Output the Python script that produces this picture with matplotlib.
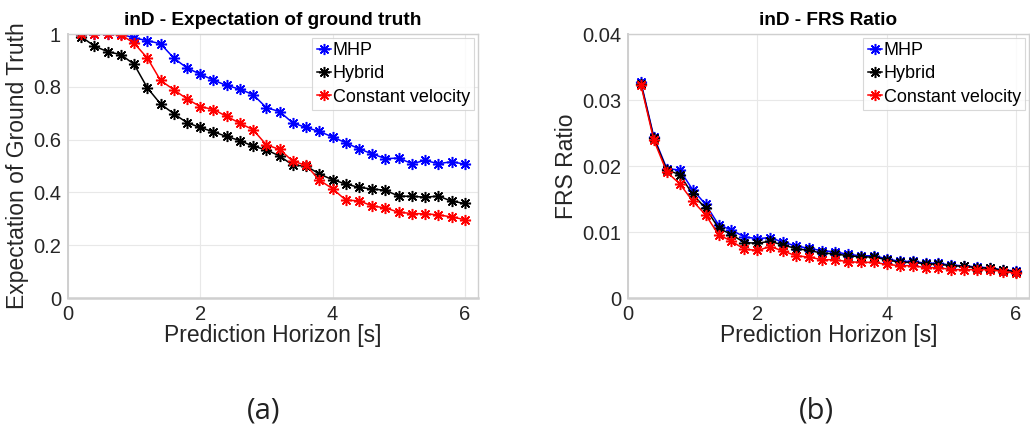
import numpy as np
import matplotlib
matplotlib.use("Agg")
import matplotlib.pyplot as plt
from matplotlib.ticker import FixedLocator, FixedFormatter

plt.rcParams['font.family'] = ['Liberation Sans', 'DejaVu Sans']

horizon = [round(0.2 * k, 1) for k in range(1, 31)]

exp_mhp = [1.0, 1.0, 1.0, 1.0, 0.985, 0.975, 0.963, 0.909, 0.871, 0.848,
           0.825, 0.805, 0.791, 0.770, 0.721, 0.706, 0.663, 0.646, 0.631, 0.610,
           0.588, 0.565, 0.546, 0.528, 0.530, 0.509, 0.521, 0.509, 0.516, 0.507]
exp_hybrid = [0.990, 0.954, 0.933, 0.922, 0.885, 0.796, 0.735, 0.698, 0.664, 0.646,
              0.629, 0.612, 0.596, 0.575, 0.561, 0.538, 0.503, 0.500, 0.470, 0.448,
              0.432, 0.419, 0.413, 0.408, 0.386, 0.385, 0.382, 0.386, 0.367, 0.358]
exp_cv = [1.0, 1.0, 1.0, 0.997, 0.965, 0.909, 0.824, 0.789, 0.754, 0.725,
          0.714, 0.688, 0.662, 0.637, 0.580, 0.563, 0.518, 0.503, 0.447, 0.414,
          0.371, 0.368, 0.349, 0.341, 0.325, 0.320, 0.319, 0.315, 0.307, 0.297]

frs_mhp = [0.0327, 0.0244, 0.0196, 0.0194, 0.0164, 0.0142, 0.0111, 0.0103, 0.00925, 0.0090,
           0.00915, 0.00844, 0.00788, 0.00752, 0.00717, 0.00701, 0.00661, 0.0064, 0.0064, 0.00595,
           0.00554, 0.00554, 0.00529, 0.00524, 0.00498, 0.00488, 0.00468, 0.00457, 0.00422, 0.00412]
frs_hybrid = [0.0325, 0.0242, 0.0194, 0.0187, 0.0157, 0.0136, 0.0106, 0.0096, 0.0084, 0.0083,
              0.0086, 0.0080, 0.0075, 0.0072, 0.0068, 0.0067, 0.0064, 0.00625, 0.0062, 0.0058,
              0.0054, 0.0054, 0.0052, 0.0051, 0.0049, 0.0048, 0.0046, 0.0045, 0.0042, 0.0040]
frs_cv = [0.0323, 0.0239, 0.0191, 0.0173, 0.0147, 0.0126, 0.0096, 0.0086, 0.0074, 0.0072,
          0.0078, 0.0071, 0.0064, 0.0062, 0.0058, 0.0058, 0.0055, 0.0054, 0.0054, 0.0051,
          0.0049, 0.0049, 0.0046, 0.0046, 0.0043, 0.0043, 0.0043, 0.0043, 0.0040, 0.0038]

series_names = ['MHP', 'Hybrid', 'Constant velocity']
series_colors = ['#0000ff', '#000000', '#ff0000']

x_ticks = [0, 2, 4, 6]
left_yticks = [0, 0.2, 0.4, 0.6, 0.8, 1.0]
left_yticklabels = ['0', '0.2', '0.4', '0.6', '0.8', '1']
right_yticks = [0, 0.01, 0.02, 0.03, 0.04]
right_yticklabels = ['0', '0.01', '0.02', '0.03', '0.04']

W, H = 1030, 434
fig = plt.figure(figsize=(W / 100, H / 100), dpi=100)
fig.patch.set_facecolor('white')

ASTERISK = (8, 2, 0)


def px_axes(l, r, t, b):
    return fig.add_axes([l / W, (H - b) / H, (r - l) / W, (b - t) / H])


def style(ax, yticks, ylabels, ylim, title, ylabel):
    ax.set_xlim(0, 6.2)
    ax.set_ylim(*ylim)
    ax.xaxis.set_major_locator(FixedLocator(x_ticks))
    ax.set_xticklabels([str(t) for t in x_ticks])
    ax.yaxis.set_major_locator(FixedLocator(yticks))
    ax.yaxis.set_major_formatter(FixedFormatter(ylabels))
    ax.grid(True, color='#e8e8e8', linewidth=0.8)
    ax.set_axisbelow(True)
    for s in ax.spines.values():
        s.set_color('#cfcfcf')
        s.set_linewidth(1.0)
    ax.spines['left'].set_linewidth(1.4)
    ax.spines['bottom'].set_linewidth(1.8)
    ax.tick_params(axis='both', direction='in', length=0, labelsize=14.5,
                   labelcolor='#262626', pad=5)
    ax.set_title(title, fontsize=13.7, fontweight='bold', pad=6.5)
    ax.set_xlabel('Prediction Horizon [s]', fontsize=16.5, color='#262626', labelpad=0)
    ax.set_ylabel(ylabel, fontsize=16.5, color='#262626', labelpad=3)


ax1 = px_axes(68, 478, 34, 298)
for vals, name, c in zip([exp_mhp, exp_hybrid, exp_cv], series_names, series_colors):
    ax1.plot(horizon, vals, color=c, marker=ASTERISK, markersize=8, markeredgewidth=1.1,
             linewidth=1.1, label=name)
style(ax1, left_yticks, left_yticklabels, (0, 1.0), 'inD - Expectation of ground truth',
      'Expectation of Ground Truth')

ax2 = px_axes(628, 1029, 34, 298)
for vals, name, c in zip([frs_mhp, frs_hybrid, frs_cv], series_names, series_colors):
    ax2.plot(horizon, vals, color=c, marker=ASTERISK, markersize=8, markeredgewidth=1.1,
             linewidth=1.1, label=name)
style(ax2, right_yticks, right_yticklabels, (0, 0.04), 'inD - FRS Ratio', 'FRS Ratio')

for ax in (ax1, ax2):
    leg = ax.legend(loc='upper right', fontsize=13, frameon=True, fancybox=False,
                    handlelength=0.8, handletextpad=0.1, borderpad=0.25,
                    labelspacing=0.35, borderaxespad=0.2)
    leg.get_frame().set_edgecolor('#cfcfcf')
    leg.get_frame().set_linewidth(0.8)

fig.text(264 / W, 1 - 411 / H, '(a)', fontsize=21, family=['Open Sans', 'DejaVu Sans'],
         ha='center', va='center', color='#222222')
fig.text(816 / W, 1 - 411 / H, '(b)', fontsize=21, family=['Open Sans', 'DejaVu Sans'],
         ha='center', va='center', color='#222222')

fig.savefig('out.png', dpi=100)
